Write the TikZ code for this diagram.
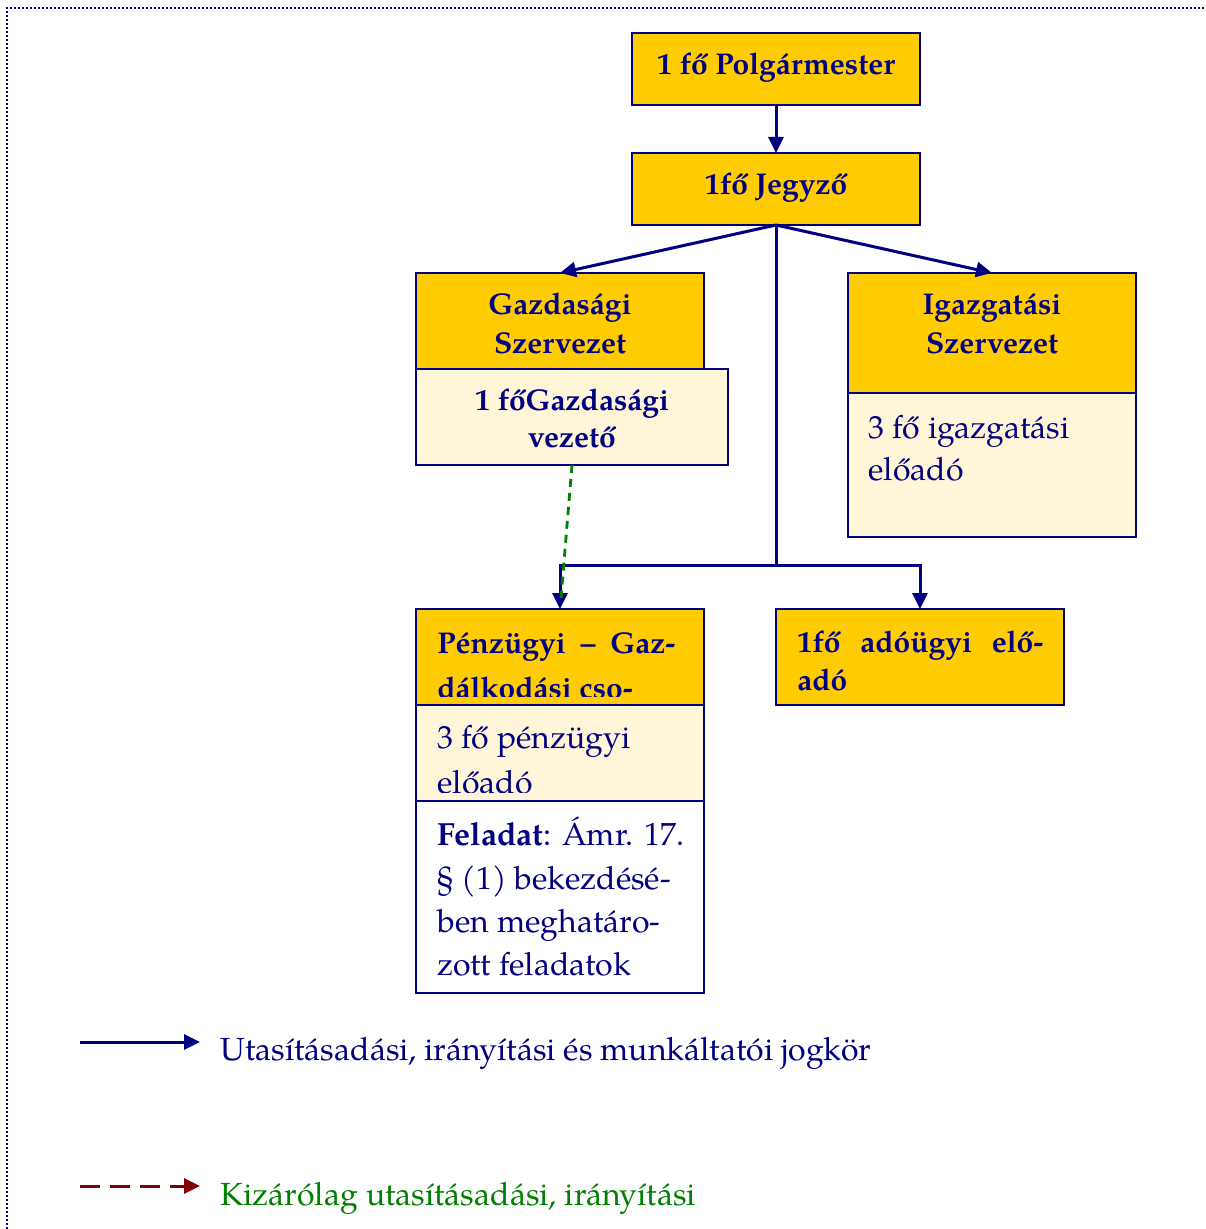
\documentclass[tikz,border=0pt]{standalone}
\usepackage{fontspec}
\setmainfont{texgyrepagella}[Extension=.otf, UprightFont=*-regular, BoldFont=*-bold, ItalicFont=*-italic, BoldItalicFont=*-bolditalic]
\usetikzlibrary{arrows.meta}
\definecolor{navy}{HTML}{000080}
\definecolor{gold}{HTML}{FFCC00}
\definecolor{cream}{HTML}{FFF6DA}
\definecolor{dgreen}{HTML}{008000}
\definecolor{dred}{HTML}{800000}
\newcommand{\regf}{\fontsize{16pt}{20pt}\selectfont}
\newcommand{\boldf}{\fontsize{15pt}{20pt}\selectfont\bfseries}
\tikzset{
  box/.style={draw=navy, line width=1.1pt, fill=gold, anchor=north west, inner sep=0pt, outer sep=0pt},
  creambox/.style={box, fill=cream},
  whitebox/.style={box, fill=white},
  lbl/.style={text=navy, font=\boldf, anchor=base, inner sep=0pt},
  lblw/.style={lbl, anchor=base west},
  txt/.style={text=navy, font=\regf, anchor=base west, inner sep=0pt},
  conn/.style={draw=navy, line width=1.5pt, -{Triangle[length=8pt,width=7.5pt]}},
  plain/.style={draw=navy, line width=1.5pt},
}
\begin{document}
\begin{tikzpicture}[x=0.5pt,y=-0.5pt]
\useasboundingbox (0,0) rectangle (1205,1229);
% dotted frame
\draw[navy, line width=1pt, dash pattern=on 1pt off 1pt] (7,1229) -- (7,8) -- (1205,8);

% boxes
\node[box, minimum width=144pt, minimum height=36pt] (polg) at (632,33) {};
\node[box, minimum width=144pt, minimum height=36pt] (jegy) at (632,153) {};
\node[box, minimum width=144pt, minimum height=48pt] (gazd) at (416,273) {};
\node[creambox, minimum width=156pt, minimum height=48pt] (gvez) at (416,369) {};
\node[box, minimum width=144pt, minimum height=60pt] (igaz) at (848,273) {};
\node[creambox, minimum width=144pt, minimum height=72pt] (igel) at (848,393) {};
\node[box, minimum width=144pt, minimum height=48pt] (penz) at (416,609) {};
\node[creambox, minimum width=144pt, minimum height=48pt] (penel) at (416,705) {};
\node[whitebox, minimum width=144pt, minimum height=96pt] (felad) at (416,801) {};
\node[box, minimum width=144pt, minimum height=48pt] (ado) at (776,609) {};

% texts
\node[lbl] (tpolg) at (776,75) {1 fő Polgármester};
\node[lbl] (tjegy) at (776,195) {1fő Jegyző};
\node[lbl] (tgazd1) at (560,315) {Gazdasági};
\node[lbl] (tgazd2) at (560,354) {Szervezet};
\node[lbl] (tgvez1) at (572,410) {1 főGazdasági};
\node[lbl] (tgvez2) at (572,447) {vezető};
\node[lbl] (tigaz1) at (992,315) {Igazgatási};
\node[lbl] (tigaz2) at (992,354) {Szervezet};
\node[txt] (tigel1) at (868,438) {3 fő igazgatási};
\node[txt] (tigel2) at (868,480) {előadó};
\begin{scope}
\clip (416,609) rectangle (704,696);
\node[lblw] (tpenz1) at (437,653) {\makebox[119pt][s]{Pénzügyi\hfill–\hfill Gaz-}};
\node[lblw] (tpenz2) at (437,698) {dálkodási cso-};
\end{scope}
\begin{scope}
\clip (416,705) rectangle (704,792);
\node[txt] (tpenel1) at (437,748) {3 fő pénzügyi};
\node[txt] (tpenel2) at (437,793) {előadó};
\end{scope}
\node[txt] (tfel1) at (437,845) {\textbf{Feladat}: Ámr. 17.};
\node[txt] (tfel2) at (437,889) {§ (1) bekezdésé-};
\node[txt] (tfel3) at (437,932) {ben meghatáro-};
\node[txt] (tfel4) at (437,975) {zott feladatok};
\node[lblw] (tado1) at (797,652) {\makebox[123pt][s]{1fő\hfill adóügyi\hfill elő-}};
\node[lblw] (tado2) at (797,690) {adó};

% connectors
\coordinate (jct) at (776,565);
\draw[conn] (polg.south) -- (jegy.north);
\draw[conn] (jegy.south) -- (gazd.north);
\draw[conn] (jegy.south) -- (igaz.north);
\draw[plain] (jegy.south) -- (jct);
\draw[conn] (jct) -| (penz.north);
\draw[conn] (jct) -| (ado.north);
\coordinate (dend) at (561,598);
\draw[dgreen, line width=1.4pt, dash pattern=on 4pt off 3pt] (gvez.south) -- (dend);

% legend
\coordinate (l1a) at (80,1042);
\coordinate (l1b) at (200,1042);
\draw[conn] (l1a) -- (l1b);
\node[txt] (leg1) at (220,1060) {Utasításadási, irányítási és munkáltatói jogkör};
\coordinate (l2a) at (80,1186);
\coordinate (l2b) at (200,1186);
\draw[dred, line width=1.5pt, dash pattern=on 10pt off 5pt, -{Triangle[length=8pt,width=7.5pt]}] (l2a) -- (l2b);
\node[txt, text=dgreen] (leg2) at (220,1205) {Kizárólag utasításadási, irányítási};
\end{tikzpicture}
\end{document}
